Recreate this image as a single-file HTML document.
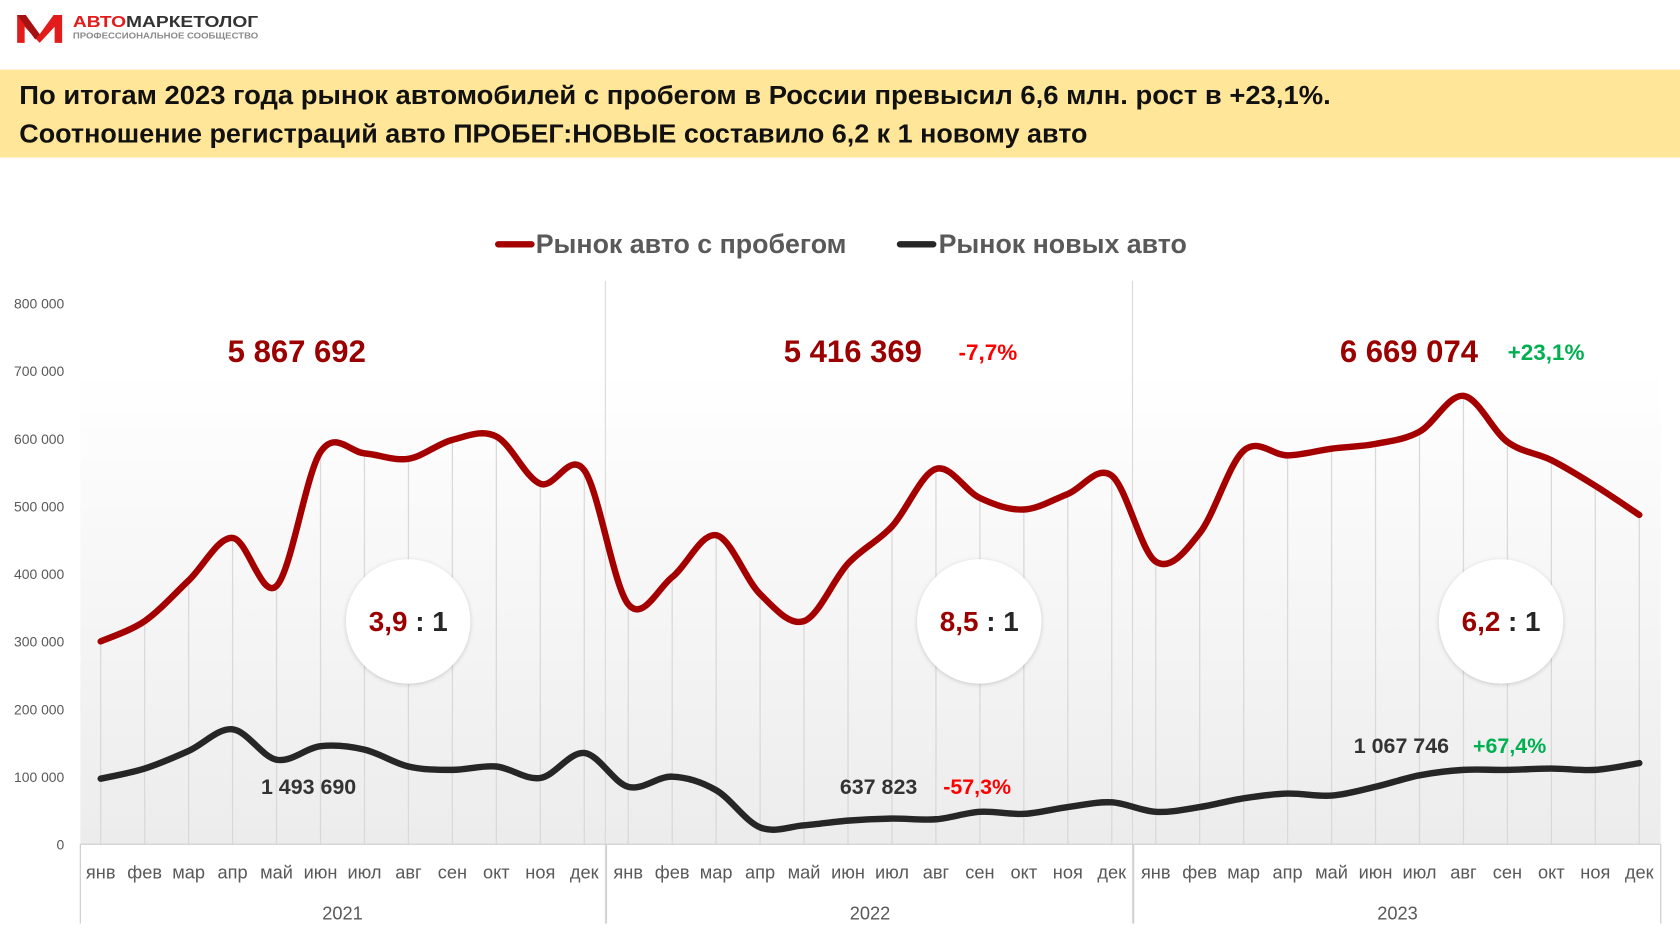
<!DOCTYPE html>
<html><head><meta charset="utf-8">
<style>
html,body{margin:0;padding:0;background:#fff;}
svg{display:block;font-family:"Liberation Sans","DejaVu Sans",sans-serif;}
</style></head>
<body>
<svg id="chart" width="1680" height="945" viewBox="0 0 1568 882" xmlns="http://www.w3.org/2000/svg">
<defs>
<linearGradient id="bg" x1="0" y1="0" x2="0" y2="1">
<stop offset="0" stop-color="#ffffff"/><stop offset="1" stop-color="#ececec"/>
</linearGradient>
<filter id="sh" x="-20%" y="-20%" width="140%" height="140%"><feDropShadow dx="0" dy="1" stdDeviation="2" flood-color="#000" flood-opacity="0.18"/></filter>
</defs>
<g>
<polygon points="16,14 24,14 37,32 50,14 58,14 58,40 51,40 51,25 37,40 23,25 23,40 16,40" fill="#e21b1b"/>
<polygon points="16,14 24,14 37,32 33,37" fill="#a51212"/>
<text x="68" y="25" font-size="15" font-weight="bold" fill="#333" textLength="173" lengthAdjust="spacingAndGlyphs"><tspan fill="#e21b1b">АВТО</tspan>МАРКЕТОЛОГ</text>
<text x="68" y="36" font-size="7.4" font-weight="bold" fill="#8a8a8a" textLength="173" lengthAdjust="spacingAndGlyphs">ПРОФЕССИОНАЛЬНОЕ СООБЩЕСТВО</text>
</g>
<rect x="0" y="65" width="1568" height="82" fill="#FFE699"/>
<text x="18" y="97" font-size="24" font-weight="bold" fill="#111" textLength="1224" lengthAdjust="spacingAndGlyphs">По итогам 2023 года рынок автомобилей с пробегом в России превысил 6,6 млн. рост в +23,1%.</text>
<text x="18" y="133" font-size="24" font-weight="bold" fill="#111" textLength="997" lengthAdjust="spacingAndGlyphs">Соотношение регистраций авто ПРОБЕГ:НОВЫЕ составило 6,2 к 1 новому авто</text>
<g>
<g><line x1="465" y1="228" x2="496" y2="228" stroke="#A50000" stroke-width="6" stroke-linecap="round"/><text x="500" y="236" font-size="25" font-weight="bold" fill="#595959">Рынок авто с пробегом</text></g>
<g><line x1="840" y1="228" x2="871" y2="228" stroke="#262626" stroke-width="6" stroke-linecap="round"/><text x="876" y="236" font-size="25" font-weight="bold" fill="#595959">Рынок новых авто</text></g>
</g>
<rect x="75" y="345" width="1475" height="443" fill="url(#bg)"/>
<g id="grid"></g>
<g id="axes"></g>
<g id="series"></g>
<g id="ann"></g>
</svg>
<script>
const months=["янв","фев","мар","апр","май","июн","июл","авг","сен","окт","ноя","дек"];
const years=["2021","2022","2023"];
const yTicks=[0,100000,200000,300000,400000,500000,600000,700000,800000];
const usedValues=[300,330,390,453,382,580,578,570,598,603,533,553,355,395,457,370,330,415,470,555,512,495,518,545,418,460,582,575,585,592,610,663,595,568,530,487].map(v=>v*1000);
const newValues=[97,112,138,170,125,145,140,115,110,115,98,135,85,100,80,25,28,35,38,37,48,45,55,62,48,55,68,75,72,85,102,110,110,112,110,120].map(v=>v*1000);
const usedTotals=["5 867 692","5 416 369","6 669 074"];
const usedChange=["","-7,7%","+23,1%"];
const newTotals=["1 493 690","637 823","1 067 746"];
const newChange=["","-57,3%","+67,4%"];
const ratios=["3,9","8,5","6,2"];

const NS="http://www.w3.org/2000/svg";
const X0=94,X1=1530,Y0=788,YTOP=283;
const xs=i=>X0+(X1-X0)*i/35;
const ys=v=>Y0-(Y0-YTOP)*v/800000;
function el(tag,attrs,parent,txt){const e=document.createElementNS(NS,tag);for(const k in attrs)e.setAttribute(k,attrs[k]);if(txt!==undefined)e.textContent=txt;parent.appendChild(e);return e;}
const grid=document.getElementById('grid'),axes=document.getElementById('axes'),series=document.getElementById('series'),ann=document.getElementById('ann');

usedValues.forEach((v,i)=>{const l=el('line',{x1:xs(i),x2:xs(i),y1:ys(v),y2:Y0,stroke:'#d9d9d9','stroke-width':1.2},grid);

});
[565,1057].forEach(x=>{const l=el('line',{x1:x,x2:x,y1:262,y2:862,stroke:'#d9d9d9','stroke-width':1},grid);

});
yTicks.forEach(t=>{const tx=el('text',{x:60,y:ys(t)+5,'text-anchor':'end','font-size':13,fill:'#595959'},axes,t===0?'0':(t/1000)+' 000');

});
el('line',{x1:75,x2:1550,y1:Y0,y2:Y0,stroke:'#d0d0d0','stroke-width':1.2},axes);
[75,566,1058,1550].forEach(x=>el('line',{x1:x,x2:x,y1:Y0,y2:862,stroke:'#d0d0d0','stroke-width':1.2},axes));
for(let i=0;i<36;i++){const t=el('text',{x:xs(i),y:820,'text-anchor':'middle','font-size':17,fill:'#595959'},axes,months[i%12]);

}
years.forEach((y,k)=>{const t=el('text',{x:xs(k*12+5.5),y:858,'text-anchor':'middle','font-size':17,fill:'#595959'},axes,y);

});

function smooth(vals){const p=vals.map((v,i)=>[xs(i),ys(v)]);let d='M'+p[0][0]+','+p[0][1];
for(let i=0;i<p.length-1;i++){const p0=p[i-1]||p[i],p1=p[i],p2=p[i+1],p3=p[i+2]||p2;
const c1=[p1[0]+(p2[0]-p0[0])/6,p1[1]+(p2[1]-p0[1])/6],c2=[p2[0]-(p3[0]-p1[0])/6,p2[1]-(p3[1]-p1[1])/6];
d+=' C'+c1+' '+c2+' '+p2;}return d;}
const pu=el('path',{d:smooth(usedValues),fill:'none',stroke:'#A50000','stroke-width':6,'stroke-linecap':'round'},series);


const pn=el('path',{d:smooth(newValues),fill:'none',stroke:'#262626','stroke-width':6,'stroke-linecap':'round'},series);



const totX=[277,796,1315],chgX=[0,922,1443],ratX=[381,914,1401],newX=[288,820,1308],newChX=[0,912,1409],newY=[741,741,703];
for(let k=0;k<3;k++){
const t=el('text',{x:totX[k],y:338,'text-anchor':'middle','font-size':29,'font-weight':'bold',fill:'#9B0000'},ann,usedTotals[k]);


if(usedChange[k]){const c=el('text',{x:chgX[k],y:336,'text-anchor':'middle','font-size':21,'font-weight':'bold',fill:k===1?'#FF0000':'#00B050'},ann,usedChange[k]);

}
const ci=el('circle',{cx:ratX[k],cy:580,r:58,fill:'#fff',filter:'url(#sh)'},ann);


const r=el('text',{x:ratX[k],y:589,'text-anchor':'middle','font-size':26,'font-weight':'bold',fill:'#262626'},ann);


el('tspan',{fill:'#9B0000'},r,ratios[k]);el('tspan',{},r,' : 1');
const n=el('text',{x:newX[k],y:newY[k],'text-anchor':'middle','font-size':20,'font-weight':'bold',fill:'#333'},ann,newTotals[k]);


if(newChange[k]){const c=el('text',{x:newChX[k],y:newY[k],'text-anchor':'middle','font-size':20,'font-weight':'bold',fill:k===1?'#FF0000':'#00B050'},ann,newChange[k]);

}
}
</script>
</body></html>
